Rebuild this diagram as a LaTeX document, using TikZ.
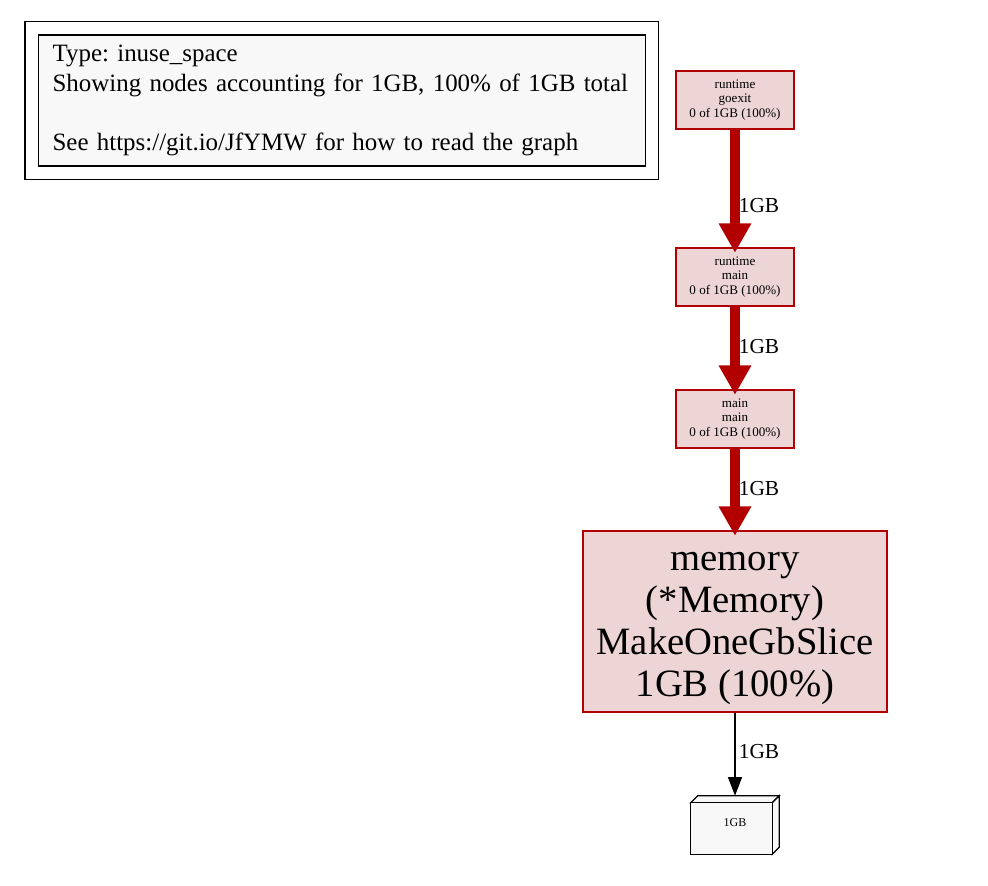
\documentclass[tikz,border=0pt]{standalone}
\usepackage{fontspec}
\setmainfont{Liberation Serif}
\usepackage{tikz}
\usetikzlibrary{arrows.meta, positioning, calc, fit}
\definecolor{hotred}{HTML}{B20000}
\definecolor{hotfill}{HTML}{EDD5D5}
\definecolor{legendgray}{HTML}{F8F8F8}
\frenchspacing

\begin{document}
\begin{tikzpicture}[x=0.75pt, y=-0.75pt,
    funcnode/.style={draw=hotred, fill=hotfill, line width=0.9pt, align=center,
        minimum width=88.5pt, minimum height=43.5pt, inner sep=0pt,
        font=\fontsize{9.8}{10.9}\selectfont},
    bignode/.style={funcnode, minimum width=228pt, minimum height=135.75pt},
    bigtext/.style={align=center, inner sep=0pt, font=\fontsize{29}{31.5}\selectfont},
    heavyedge/.style={hotred, line width=7.5pt,
        -{Triangle[length=22pt, width=23pt]}, shorten >=-4pt},
    thinedge/.style={black, line width=1pt,
        -{Triangle[length=14pt, width=10.5pt]}},
    edgelbl/.style={font=\fontsize{16}{18}\selectfont, inner sep=0pt},
    boxline/.style={draw=black, line width=0.9pt, fill=legendgray}]
    \useasboundingbox (0,0) rectangle (988,885);

    % ── legend ────────────────────────────────────────────────────────
    \node[draw, line width=0.9pt, fill=legendgray, align=left, anchor=west,
        text width=434pt, minimum height=98.25pt, inner xsep=10.5pt, inner ysep=2pt,
        font=\fontsize{18.7}{22.2}\selectfont] (legend) at (38,100.5)
        {Type: inuse\_space\\
         Showing nodes accounting for 1GB, 100\% of 1GB total\\[22.2pt]
         See https://git.io/JfYMW for how to read the graph};
    \node[draw, line width=0.9pt, fit=(legend), inner sep=9.75pt] (legendframe) {};

    % ── call chain ────────────────────────────────────────────────────
    \node[funcnode] (goexit) at (735,100) {runtime\\goexit\\0 of 1GB (100\%)};
    \node[funcnode] (rtmain) at (735,277) {runtime\\main\\0 of 1GB (100\%)};
    \node[funcnode] (mainmain) at (735,419) {main\\main\\0 of 1GB (100\%)};
    \node[bignode] (memory) at (735,621.5) {};
    \node[bigtext] (memorytext) at ([yshift=-5.25pt]memory.center)
        {memory\\(*Memory)\\MakeOneGbSlice\\1GB (100\%)};

    \draw[heavyedge] (goexit) -- (rtmain);
    \draw[heavyedge] (rtmain) -- (mainmain);
    \draw[heavyedge] (mainmain) -- (memory);
    \node[edgelbl] (lblA) at (759,206) {1GB};
    \node[edgelbl] (lblB) at (759,347) {1GB};
    \node[edgelbl] (lblC) at (759,489) {1GB};

    % ── allocation box ────────────────────────────────────────────────
    \node[minimum width=66pt, minimum height=43.5pt, inner sep=0pt] (leaf) at (735,825) {};
    \draw[boxline] ($(leaf.north west)+(0,-5.25pt)$) -- ($(leaf.north west)+(5.25pt,0)$)
        -- (leaf.north east) -- ($(leaf.north east)+(-5.25pt,-5.25pt)$) -- cycle;
    \draw[boxline] ($(leaf.north east)+(-5.25pt,-5.25pt)$) -- (leaf.north east)
        -- ($(leaf.south east)+(0,5.25pt)$) -- ($(leaf.south east)+(-5.25pt,0)$) -- cycle;
    \draw[boxline] (leaf.south west) rectangle ($(leaf.north east)+(-5.25pt,-5.25pt)$);
    \node[font=\fontsize{9}{10}\selectfont, inner sep=0pt] (leaftext) at (735,823) {1GB};

    \draw[thinedge] (memory) -- (leaf);
    \node[edgelbl] (lblD) at (759,752) {1GB};
\end{tikzpicture}
\end{document}
